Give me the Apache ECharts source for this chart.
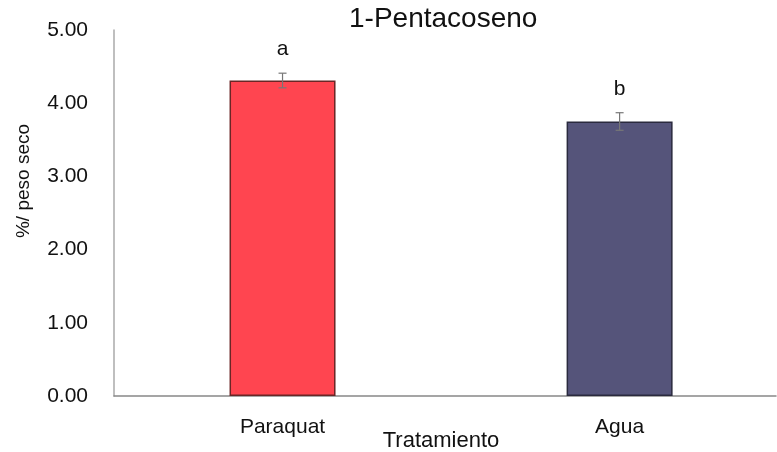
<!DOCTYPE html>
<html>
<head>
<meta charset="utf-8">
<script src="https://cdn.jsdelivr.net/npm/echarts@6/dist/echarts.min.js"></script>
<style>
  html, body { margin: 0; padding: 0; background: #fff; }
  #chart { width: 777px; height: 452px; }
</style>
</head>
<body>
<div id="chart"></div>
<script>
// data
var categories = ['Paraquat', 'Agua'];
var means = [4.31, 3.75];
var errors = [0.10, 0.12];
var letters = ['a', 'b'];
var barColors = ['#FF4550', '#55547A'];
var barBorders = ['#6a2626', '#2a2a3e'];
var yTicks = [0, 1, 2, 3, 4, 5];

var font = 'Liberation Sans, Arial, sans-serif';

var chart = echarts.init(document.getElementById('chart'));
chart.setOption({
  animation: false,
  title: {
    text: '1-Pentacoseno',
    left: 349,
    top: 5,
    padding: 0,
    textStyle: { fontFamily: font, fontSize: 28, fontWeight: 'normal', color: '#111' }
  },
  grid: { left: 114, right: 1, top: 30, bottom: 56, containLabel: false },
  // the plot area in the original is cut off on the right, so the category
  // slots are laid out on a value axis that ends before the 2nd slot does
  xAxis: {
    type: 'value',
    min: -0.5,
    max: 1.464,
    splitLine: { show: false },
    axisLine: { show: true, onZero: false, lineStyle: { color: '#888', width: 1.5 } },
    axisTick: { show: false },
    axisLabel: {
      customValues: [0, 1],
      fontFamily: font, fontSize: 21, color: '#111', margin: 21,
      formatter: function (v) { return categories[Math.round(v)]; }
    }
  },
  yAxis: {
    type: 'value',
    min: yTicks[0],
    max: yTicks[yTicks.length - 1],
    interval: 1,
    splitLine: { show: false },
    axisLine: { show: true, onZero: false, lineStyle: { color: '#aaa', width: 1.5 } },
    axisTick: { show: false },
    axisLabel: {
      fontFamily: font, fontSize: 21, color: '#111', margin: 26,
      formatter: function (v) { return v.toFixed(2); }
    }
  },
  graphic: [
    {
      type: 'text', x: 24, y: 181, rotation: Math.PI / 2,
      style: { text: '%/ peso seco', fontFamily: font, fontSize: 19, fill: '#111', align: 'center', verticalAlign: 'middle' }
    },
    {
      type: 'text', x: 441, y: 441,
      style: { text: 'Tratamiento', fontFamily: font, fontSize: 22, fill: '#111', align: 'center', verticalAlign: 'middle' }
    }
  ],
  series: [
    {
      type: 'bar',
      barWidth: 106,
      data: means.map(function (v, i) {
        return {
          value: [i, v],
          itemStyle: { color: barColors[i], borderColor: barBorders[i], borderWidth: 1.5 }
        };
      })
    },
    {
      type: 'custom',
      data: means.map(function (v, i) { return [i, v - errors[i], v + errors[i]]; }),
      renderItem: function (params, api) {
        var lo = api.coord([api.value(0), api.value(1)]);
        var hi = api.coord([api.value(0), api.value(2)]);
        var w = 4;
        var st = { stroke: '#777', lineWidth: 1.2 };
        return {
          type: 'group',
          children: [
            { type: 'line', shape: { x1: hi[0], y1: hi[1], x2: lo[0], y2: lo[1] }, style: st },
            { type: 'line', shape: { x1: hi[0] - w, y1: hi[1], x2: hi[0] + w, y2: hi[1] }, style: st },
            { type: 'line', shape: { x1: lo[0] - w, y1: lo[1], x2: lo[0] + w, y2: lo[1] }, style: st },
            {
              type: 'text', x: hi[0], y: hi[1] - 24,
              style: { text: letters[params.dataIndex], fontFamily: font, fontSize: 21, fill: '#111', align: 'center', verticalAlign: 'middle' }
            }
          ]
        };
      },
      z: 5
    }
  ]
});
</script>
</body>
</html>
